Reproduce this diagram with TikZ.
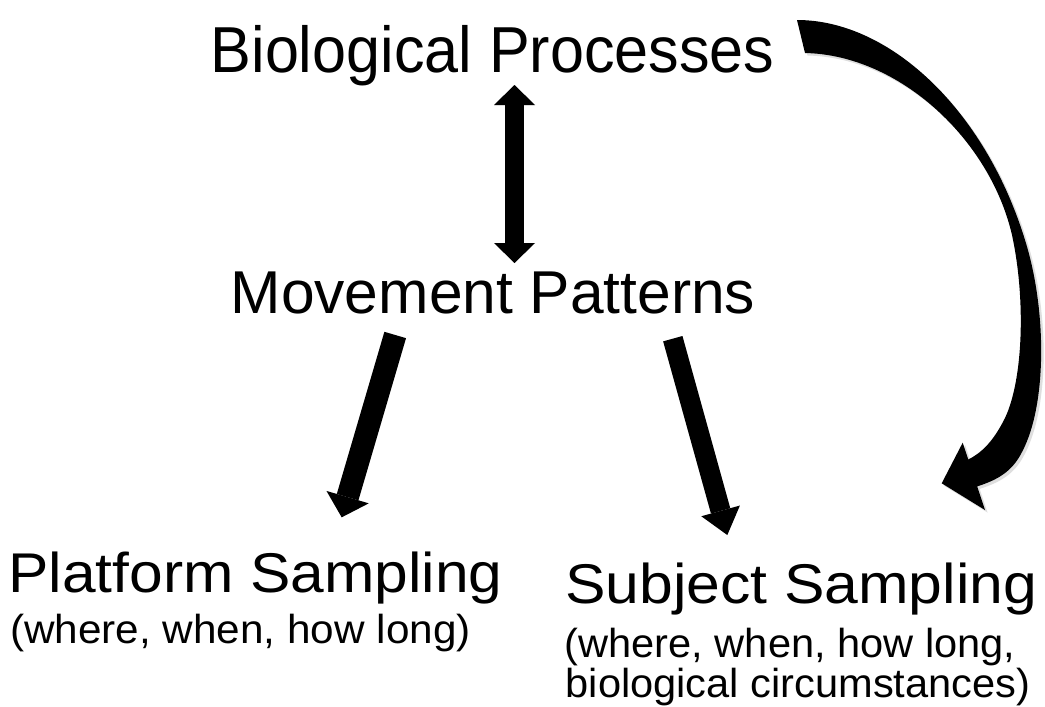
\documentclass[tikz,border=0pt]{standalone}
\usepackage{fontspec}
\setmainfont{Liberation Sans}
\usetikzlibrary{arrows.meta,calc}
\newcommand\bpcurvepath{(797,20) .. controls (890,20) and (985,110) .. (1025,240)
 .. controls (1047,310) and (1047,405) .. (1022,452)
 .. controls (1012,472) and (997,480) .. (977.2,486.4)
 -- (985,510) -- (941.7,483.3) -- (962.7,442.7) -- (968.3,459.5)
 .. controls (983,452) and (994,440) .. (1005,418)
 .. controls (1023,380) and (1026,300) .. (1012,235)
 .. controls (990,140) and (900,55) .. (805,53) -- cycle}
\begin{document}
\begin{tikzpicture}[x=1pt,y=-1pt,
  lbl/.style={inner sep=0pt, anchor=base west, text=black},
  blockline/.style={line width=#1, line cap=butt},
  shadowcol/.style={draw=black!13, fill=black!13}]
\useasboundingbox (0,0) rectangle (1045,707);
\fill[white] (0,0) rectangle (1045,707);

% texts
\node[lbl] (bp) at (210.5,72) {\fontsize{65}{65}\selectfont\scalebox{0.94}[1]{Biological Processes}};
\node[lbl] (mp) at (230.5,313) {\fontsize{60.5}{60.5}\selectfont Movement Patterns};
\node[lbl] (ps) at (8.2,592) {\fontsize{56}{56}\selectfont\scalebox{1.08}[1]{Platform Sampling}};
\node[lbl] (psd) at (9.9,643) {\fontsize{40.5}{40.5}\selectfont\scalebox{1.044}[1]{(where, when, how long)}};
\node[lbl] (ss) at (565,603) {\fontsize{56}{56}\selectfont\scalebox{1.083}[1]{Subject Sampling}};
\node[lbl] (ssd1) at (564.5,657) {\fontsize{40.5}{40.5}\selectfont\scalebox{1.027}[1]{(where, when, how long,}};
\node[lbl] (ssd2) at (565.5,697) {\fontsize{40.5}{40.5}\selectfont\scalebox{1.027}[1]{biological circumstances)}};

% arrow end points
\coordinate (bpm) at (514.5,85);
\coordinate (mpb) at (514.5,263);
\coordinate (mpl) at (395.2,335);
\coordinate (psa) at (341.7,517.3);
\coordinate (mpr) at (672.8,338.7);
\coordinate (ssa) at (727.3,535);

% soft shadows
\begin{scope}[shift={(2.5,2.5)}]
\draw[blockline=19pt, draw=black!13, {Triangle[length=20pt,width=41pt,line width=0pt]}-{Triangle[length=20pt,width=41pt,line width=0pt]}] (bpm) -- (mpb);
\draw[blockline=22.5pt, draw=black!13, -{Triangle[length=21pt,width=44pt,line width=0pt]}] (mpl) -- (psa);
\draw[blockline=20pt, draw=black!13, -{Triangle[length=25pt,width=40pt,line width=0pt]}] (mpr) -- (ssa);
\fill[black!13] \bpcurvepath;
\end{scope}

% arrows
\draw[blockline=19pt, draw=black, {Triangle[length=20pt,width=41pt,line width=0pt]}-{Triangle[length=20pt,width=41pt,line width=0pt]}] (bpm) -- (mpb);
\draw[blockline=22.5pt, draw=black, -{Triangle[length=21pt,width=44pt,line width=0pt]}] (mpl) -- (psa);
\draw[blockline=20pt, draw=black, -{Triangle[length=25pt,width=40pt,line width=0pt]}] (mpr) -- (ssa);

% curved arrow from Biological Processes to Subject Sampling
\fill[black] \bpcurvepath;
\end{tikzpicture}
\end{document}
